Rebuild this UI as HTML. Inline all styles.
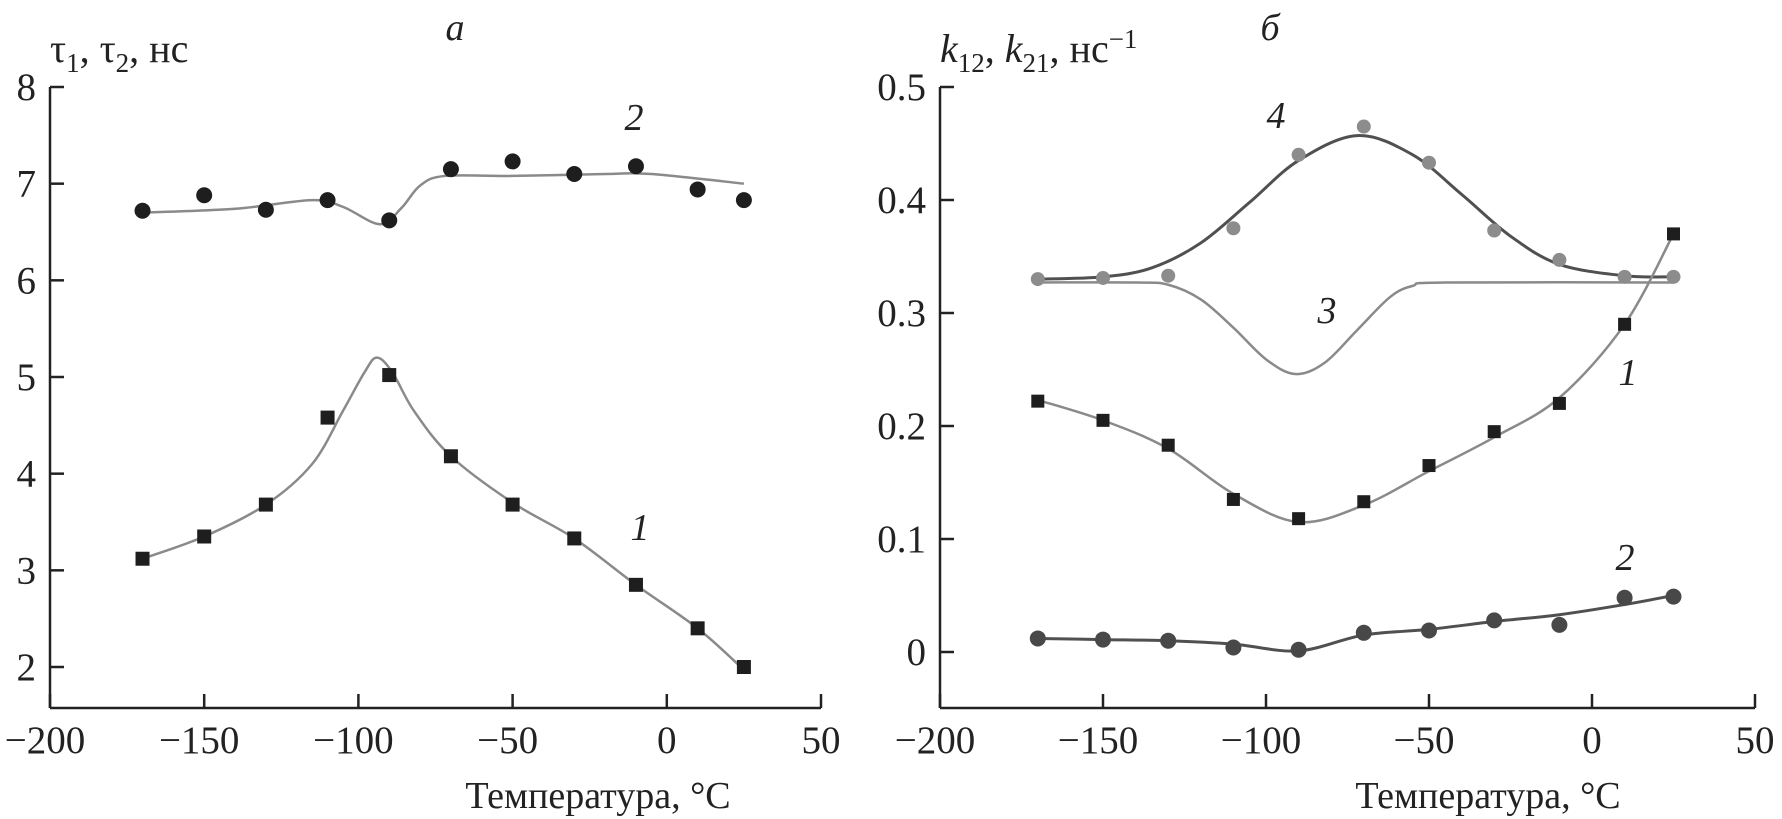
<!DOCTYPE html>
<html><head><meta charset="utf-8"><style>
html,body{margin:0;padding:0;background:#fff;}
svg{display:block;font-family:"Liberation Serif",serif;}
</style></head><body>
<svg id="chart" width="1782" height="819" viewBox="0 0 1782 819"></svg>
<script>
const xsT = [-170,-150,-130,-110,-90,-70,-50,-30,-10,10,25];
// Panel a
const tau2 = [6.72,6.88,6.73,6.83,6.62,7.15,7.23,7.10,7.18,6.94,6.83];
const tau1 = [3.12,3.35,3.68,4.58,5.02,4.18,3.68,3.33,2.85,2.40,2.00];
const fitTau2X = [-170,-140,-115,-105,-93,-86,-80,-72,-50,-20,-5,25];
const fitTau2Y = [6.70,6.74,6.83,6.76,6.58,6.75,6.98,7.08,7.08,7.10,7.10,7.00];
const fitTau1X = [-170,-150,-130,-115,-105,-98,-94,-89,-82,-70,-50,-30,-10,10,25];
const fitTau1Y = [3.12,3.35,3.68,4.10,4.65,5.05,5.20,5.05,4.65,4.18,3.70,3.33,2.85,2.40,1.97];
const ticksAX = [-200,-150,-100,-50,0,50];
const ticksAY = [2,3,4,5,6,7,8];
// Panel b
const k4 = [0.330,0.331,0.333,0.375,0.440,0.465,0.433,0.373,0.347,0.332,0.332];
const k1 = [0.222,0.205,0.183,0.135,0.118,0.133,0.165,0.195,0.220,0.290,0.370];
const k2 = [0.012,0.011,0.010,0.004,0.002,0.017,0.019,0.028,0.024,0.048,0.049];
const fit4X = [-170,-150,-135,-120,-105,-90,-72,-55,-40,-25,-10,10,25];
const fit4Y = [0.330,0.332,0.340,0.362,0.398,0.435,0.457,0.440,0.405,0.368,0.343,0.333,0.332];
const fit3X = [-170,-140,-130,-120,-110,-100,-91,-82,-72,-62,-55,-45,25];
const fit3Y = [0.327,0.327,0.325,0.312,0.287,0.259,0.246,0.256,0.285,0.314,0.324,0.327,0.327];
const fit1X = [-170,-150,-130,-110,-90,-70,-50,-30,-10,10,25];
const fit1Y = [0.223,0.205,0.180,0.140,0.115,0.130,0.160,0.190,0.225,0.290,0.370];
const fit2X = [-170,-150,-130,-110,-90,-70,-50,-30,-10,10,25];
const fit2Y = [0.012,0.011,0.010,0.007,0.001,0.015,0.020,0.027,0.033,0.042,0.050];
const ticksBX = [-200,-150,-100,-50,0,50];
const ticksBY = [0,0.1,0.2,0.3,0.4,0.5];

const NS="http://www.w3.org/2000/svg";
const svg=document.getElementById('chart');
function mk(tag,attrs,parent){const e=document.createElementNS(NS,tag);for(const k in attrs)e.setAttribute(k,attrs[k]);(parent||svg).appendChild(e);return e;}

const axA={x0:50,x1:821,vx0:-200,vx1:50,yBase:667,yTop:87,vy0:2,vy1:8,axisY:708};
const axB={x0:940,x1:1755,vx0:-200,vx1:50,yBase:652,yTop:87,vy0:0,vy1:0.5,axisY:708};
function sx(a,v){return a.x0+(v-a.vx0)/(a.vx1-a.vx0)*(a.x1-a.x0);}
function sy(a,v){return a.yBase-(v-a.vy0)/(a.vy1-a.vy0)*(a.yBase-a.yTop);}

function smooth(pts){
  let d=`M${pts[0][0]},${pts[0][1]}`;
  for(let i=0;i<pts.length-1;i++){
    const p0=pts[Math.max(0,i-1)],p1=pts[i],p2=pts[i+1],p3=pts[Math.min(pts.length-1,i+2)];
    const c1=[p1[0]+(p2[0]-p0[0])/6,p1[1]+(p2[1]-p0[1])/6];
    const c2=[p2[0]-(p3[0]-p1[0])/6,p2[1]-(p3[1]-p1[1])/6];
    d+=` C${c1[0]},${c1[1]} ${c2[0]},${c2[1]} ${p2[0]},${p2[1]}`;
  }
  return d;
}

function drawAxes(a,tx,ty,fmt,name){
  const g=mk('g',{});
  
  
  const yl=mk('line',{x1:a.x0,y1:a.yTop,x2:a.x0,y2:a.axisY,stroke:'#222','stroke-width':2.5},g);
  
  
  const xl=mk('line',{x1:a.x0,y1:a.axisY,x2:a.x1,y2:a.axisY,stroke:'#222','stroke-width':2.5},g);
  
  
  tx.forEach(v=>{
    const x=sx(a,v);
    mk('line',{x1:x,y1:a.axisY,x2:x,y2:a.axisY-14,stroke:'#222','stroke-width':2.5},g);
    const t=mk('text',{x:x-(v<0?5:0),y:753,'text-anchor':'middle','font-size':39,fill:'#222'},g);
    t.textContent=(v<0?'\u2212':'')+Math.abs(v);
    
    
  });
  ty.forEach(v=>{
    const y=sy(a,v);
    mk('line',{x1:a.x0,y1:y,x2:a.x0+14,y2:y,stroke:'#222','stroke-width':2.5},g);
    const t=mk('text',{x:a.x0-14,y:y+13,'text-anchor':'end','font-size':39,fill:'#222'},g);
    t.textContent=fmt(v);
    
    
  });
  const xt=mk('text',{x:(a===axA?598:1488),y:808,'text-anchor':'middle','font-size':38,fill:'#222'},g);
  xt.textContent='Температура, °C';
  
  
}
drawAxes(axA,ticksAX,ticksAY,v=>String(v),'panel-a');
drawAxes(axB,ticksBX,ticksBY,v=>v===0?'0':v.toFixed(1),'panel-b');

function curve(a,xs,ys,color,w,name){
  const p=mk('path',{d:smooth(xs.map((x,i)=>[sx(a,x),sy(a,ys[i])])),fill:'none',stroke:color,'stroke-width':w});
  
  
}
function circles(a,ys,color,r,name){
  ys.forEach((v,i)=>{
    const c=mk('circle',{cx:sx(a,xsT[i]),cy:sy(a,v),r:r,fill:color});
    
    
  });
}
function squares(a,ys,color,s,name){
  ys.forEach((v,i)=>{
    const c=mk('rect',{x:sx(a,xsT[i])-s/2,y:sy(a,v)-s/2,width:s,height:s,fill:color});
    
    
  });
}
curve(axA,fitTau2X,fitTau2Y,'#8a8a8a',2.5,'tau2-fit-curve');
curve(axA,fitTau1X,fitTau1Y,'#8a8a8a',2.5,'tau1-fit-curve');
circles(axA,tau2,'#1e1e1e',8,'tau2-point');
squares(axA,tau1,'#1e1e1e',14,'tau1-point');

curve(axB,fit3X,fit3Y,'#8a8a8a',2.5,'k3-curve');
curve(axB,fit4X,fit4Y,'#505050',3,'k4-fit-curve');
curve(axB,fit1X,fit1Y,'#8a8a8a',2.5,'k1-fit-curve');
curve(axB,fit2X,fit2Y,'#505050',3,'k2-fit-curve');
circles(axB,k4,'#8c8c8c',7,'k4-point');
squares(axB,k1,'#1e1e1e',13,'k12-point');
circles(axB,k2,'#484848',8,'k2-point');

function label(x,y,txt,size,italic,name,anchor){
  const t=mk('text',{x:x,y:y,'font-size':size,fill:'#222','font-style':italic?'italic':'normal','text-anchor':anchor||'start'});
  t.textContent=txt;
  
  
  return t;
}
label(455,40,'а',38,true,'panel-a-title','middle');
label(1270,40,'б',38,true,'panel-b-title','middle');
label(634,130,'2',38,true,'curve-label-2a','middle');
label(640,540,'1',38,true,'curve-label-1a','middle');
label(1276,128,'4',38,true,'curve-label-4b','middle');
label(1327,323,'3',38,true,'curve-label-3b','middle');
label(1628,385,'1',38,true,'curve-label-1b','middle');
label(1625,570,'2',38,true,'curve-label-2b','middle');

// Y-axis titles
const ya=mk('text',{x:50,y:62,'font-size':40,fill:'#222'});
ya.innerHTML='τ<tspan font-size="27" dy="10">1</tspan><tspan dy="-10">, τ</tspan><tspan font-size="27" dy="10">2</tspan><tspan dy="-10">, нс</tspan>';


const yb=mk('text',{x:940,y:62,'font-size':40,fill:'#222'});
yb.innerHTML='<tspan font-style="italic">k</tspan><tspan font-size="27" dy="10">12</tspan><tspan dy="-10">, </tspan><tspan font-style="italic">k</tspan><tspan font-size="27" dy="10">21</tspan><tspan dy="-10">, нс</tspan><tspan font-size="27" dy="-14">−1</tspan>';


</script>
</body></html>
